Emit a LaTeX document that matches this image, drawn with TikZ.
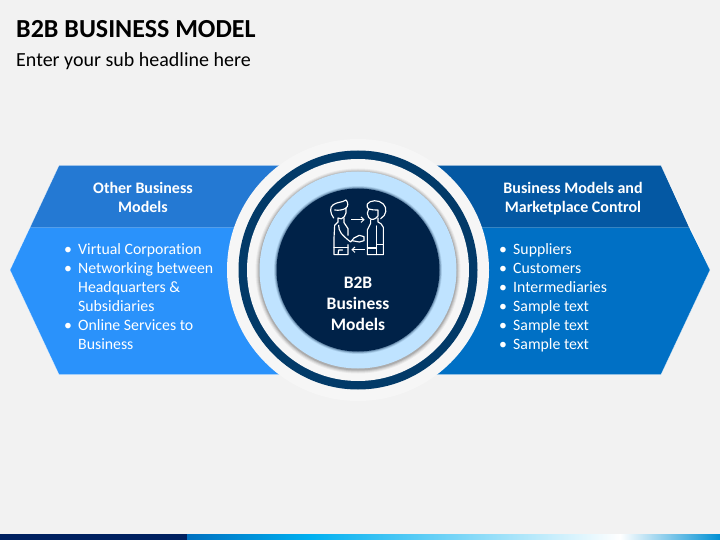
\documentclass[tikz,border=0pt]{standalone}
\usepackage{fontspec}
\setmainfont[Ligatures=NoCommon]{Carlito}
\usetikzlibrary{shadings,arrows.meta}
\definecolor{pagebg}{HTML}{F2F2F2}
\definecolor{haloDisc}{HTML}{F6F6F6}
\definecolor{leftTop}{HTML}{2479D3}
\definecolor{leftLow}{HTML}{2A92FB}
\definecolor{rightTop}{HTML}{0458A3}
\definecolor{rightLow}{HTML}{0070C5}
\definecolor{ringDark}{HTML}{023A68}
\definecolor{coreDark}{HTML}{002248}
\definecolor{paleBlue}{HTML}{BFE3FF}
\definecolor{barDark}{HTML}{002060}
\definecolor{barA}{HTML}{0070C0}
\definecolor{barB}{HTML}{00B0F0}
\definecolor{barD}{HTML}{0090D4}
\tikzset{
  x=1pt,y=-1pt,
  headtext/.style={text=white,font=\fontsize{16}{19}\selectfont\bfseries,align=center,inner sep=0pt,anchor=north},
  listtext/.style={text=white,font=\fontsize{15.8}{19}\selectfont,align=left,anchor=north west,inner sep=0pt},
  disc/.style={circle,inner sep=0pt,minimum size=#1},
  bandedge/.style={draw=white,draw opacity=0.55,line width=0.5pt},
  iconline/.style={draw=white,line width=1.15pt,line join=round,line cap=round},
  iconarrow/.style={draw=white,line width=0.95pt,-{Straight Barb[length=3pt,width=5.5pt]}}
}
\newcommand{\itemmark}{\makebox[12pt][l]{\hspace{-2pt}\textbullet}}
\newcommand{\itemgap}{\makebox[12pt][l]{}}
\begin{document}
\begin{tikzpicture}
\useasboundingbox (0,0) rectangle (720,540);
\fill[pagebg] (0,0) rectangle (720,540);
% footer bar
\fill[barDark] (0,534) rectangle (187,540);
\shade[left color=barA,right color=barB] (187,534) rectangle (310,540);
\shade[left color=barB,right color=white] (310,534) rectangle (620,540);
\shade[left color=white,right color=barD] (620,534) rectangle (720,540);
% title
\node[anchor=base west,inner sep=0pt,font=\fontsize{26}{30}\selectfont\bfseries,text=black] (title) at (16,38) {B2B BUSINESS MODEL};
\node[anchor=base west,inner sep=0pt,font=\fontsize{20}{24}\selectfont,text=black] (subtitle) at (16,66.5) {Enter your sub headline here};
% side shapes
\fill[leftLow] (10,270) -- (30,227.5) -- (360,227.5) -- (360,374.5) -- (59,374.5) -- cycle;
\fill[leftTop] (30,227.5) -- (59,165.5) -- (360,165.5) -- (360,227.5) -- cycle;
\fill[rightLow] (710,270) -- (689,227.5) -- (360,227.5) -- (360,374.5) -- (661,374.5) -- cycle;
\fill[rightTop] (689,227.5) -- (661,165.5) -- (360,165.5) -- (360,227.5) -- cycle;
\draw[bandedge] (360,165.5) -- (59,165.5) -- (10,270) -- (59,374.5) -- (360,374.5);
\draw[bandedge] (360,165.5) -- (661,165.5) -- (710,270) -- (661,374.5) -- (360,374.5);
% rings
\node[disc=262pt,fill=haloDisc] (outerdisc) at (358,270) {};
\node[disc=239pt,fill=ringDark] (darkring) at (358,270) {};
\node[disc=222pt,fill=haloDisc] (innerwhite) at (358,270) {};
\foreach \r/\o in {102.5/0.05,101.5/0.07,100.5/0.09,99.5/0.12}
  \fill[black,opacity=\o] (358,271) circle (\r);
\node[disc=197pt,fill=paleBlue] (paledisc) at (358,270) {};
\foreach \r/\o in {84/0.10,83.2/0.16,82.4/0.25}
  \fill[coreDark,opacity=\o] (358,270) circle (\r);
\node[disc=163pt,fill=coreDark] (core) at (358,270) {};
% handshake icon
\begin{scope}[shift={(328,198)},x=0.3333pt,y=-0.3333pt]
  % left person
  \draw[iconline] (17,60) .. controls (6,46) and (4,26) .. (16,20) .. controls (26,12) and (42,14) .. (54,6) .. controls (62,14) and (60,26) .. (54,30);
  \draw[iconline] (20,36) .. controls (32,38) and (46,36) .. (54,30) .. controls (55,40) and (55,50) .. (49,56) .. controls (44,64) and (36,64) .. (30,60) -- (30,72);
  \draw[iconline] (48,60) -- (48,74) -- (60,92) -- (60,112);
  \draw[iconline] (30,72) -- (20,82) -- (18,120) -- (18,170) -- (60,170) -- (60,140);
  \draw[iconline] (18,148) -- (60,148);
  \draw[iconline] (32,82) .. controls (32,100) and (40,110) .. (68,132) -- (78,120) -- (94,112) -- (108,116) -- (108,128) -- (94,132) -- (72,128);
  \draw[iconline] (30,170) -- (32,156) -- (44,156);
  % right person
  \draw[iconline] (158,62) .. controls (176,52) and (178,30) .. (166,18) .. controls (152,4) and (126,6) .. (118,18) .. controls (116,26) and (118,30) .. (122,33);
  \draw[iconline] (122,33) -- (118,46) -- (122,58) .. controls (128,68) and (142,66) .. (150,54) -- (150,36) .. controls (140,36) and (130,36) .. (122,33);
  \draw[iconline] (128,66) -- (128,76) -- (118,96) -- (118,170) -- (166,170) -- (166,88) .. controls (164,78) and (156,76) .. (150,72) -- (150,60);
  \draw[iconline] (146,84) -- (146,170);
  \draw[iconline] (118,150) -- (146,150);
  \draw[iconline] (146,140) -- (166,140);
  % arrows
  \draw[iconarrow] (70,65) -- (110,65);
  \draw[iconarrow] (110,155) -- (70,155);
\end{scope}
% texts
\node[headtext] (lefthead) at (143,182.5) {Other Business\\Models};
\node[headtext] (righthead) at (573,182.5) {Business Models and\\Marketplace Control};
\node[listtext] (leftlist) at (66,242.3) {\rule{0pt}{12pt}\itemmark Virtual Corporation\\
\itemmark Networking between\\
\itemgap Headquarters \&\\
\itemgap Subsidiaries\\
\itemmark Online Services to\\
\itemgap Business};
\node[listtext] (rightlist) at (501,242.3) {\rule{0pt}{12pt}\itemmark Suppliers\\
\itemmark Customers\\
\itemmark Intermediaries\\
\itemmark Sample text\\
\itemmark Sample text\\
\itemmark Sample text};
\node[text=white,font=\fontsize{17.5}{21}\selectfont\bfseries,align=center,inner sep=0pt] (coretext) at (358,304) {B2B\\Business\\Models};
\end{tikzpicture}
\end{document}
